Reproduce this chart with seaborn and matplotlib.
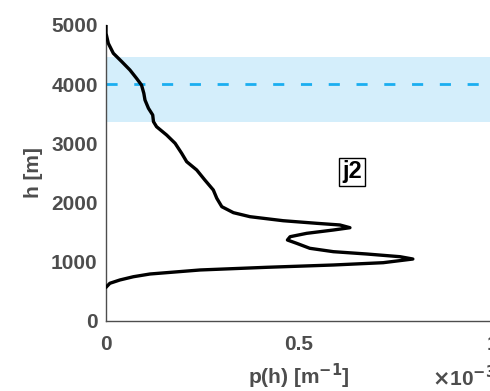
import numpy as np
import pandas as pd
import seaborn as sns
import matplotlib.pyplot as plt

# p(h) values, in units of 1e-3 m^-1, with heights in m
p_e3 = [0.000, 0.000, 0.006, 0.019, 0.041, 0.062, 0.079, 0.092, 0.098, 0.101,
        0.110, 0.121, 0.123, 0.131, 0.157, 0.179, 0.196, 0.209, 0.235, 0.256,
        0.278, 0.287, 0.300, 0.330, 0.373, 0.459, 0.546, 0.606, 0.632, 0.589,
        0.520, 0.477, 0.470, 0.494, 0.528, 0.589, 0.675, 0.762, 0.795, 0.718,
        0.589, 0.416, 0.244, 0.114, 0.071, 0.036, 0.010, 0.000]
h = [5000, 4860, 4690, 4522, 4380, 4240, 4100, 3986, 3846, 3733,
     3593, 3480, 3367, 3282, 3142, 3002, 2833, 2691, 2551, 2382,
     2213, 2073, 1931, 1830, 1762, 1694, 1650, 1622, 1576, 1537,
     1481, 1424, 1368, 1312, 1228, 1171, 1132, 1086, 1047, 985,
     946, 907, 862, 794, 748, 693, 637, 569]

band_lo, band_hi = 3360, 4460
h_ref = 4000
label = "j2"

df = pd.DataFrame({"p": np.array(p_e3) * 1e-3, "h": h})

sns.set_style("white")
plt.rcParams["font.family"] = ["Liberation Sans", "DejaVu Sans"]
plt.rcParams["font.weight"] = "bold"
gray = "#4d4d4d"

fig = plt.figure(figsize=(4.9, 3.91), dpi=100)
ax = fig.add_axes([106 / 490, 1 - 321 / 391, 386 / 490, 296 / 391])

ax.axhspan(band_lo, band_hi, color="#d4eefb", lw=0, zorder=0)
ax.axhline(h_ref, color="#1aaef0", lw=2, ls=(0, (4, 6)), zorder=1)
sns.lineplot(data=df, x="p", y="h", sort=False, color="black", lw=2.4,
             estimator=None, ax=ax, zorder=3)
ax.lines[-1].set_solid_joinstyle("round")

ax.text(0.637e-3, 2517, label, fontsize=17, fontweight="bold", color="black",
        ha="center", va="center",
        bbox=dict(boxstyle="square,pad=0.12", fc="white", ec="black", lw=1))

ax.set_xlim(0, 1e-3)
ax.set_ylim(0, 5000)
ax.set_xticks([0, 0.5e-3, 1e-3])
ax.set_xticklabels(["0", "0.5", "1"])
ax.set_yticks([0, 1000, 2000, 3000, 4000, 5000])
ax.tick_params(direction="in", length=4, width=1, color=gray, labelsize=15,
               labelcolor=gray)
ax.tick_params(axis="x", pad=10)
ax.tick_params(axis="y", pad=6)
for s in ["top", "right"]:
    ax.spines[s].set_visible(False)
for s in ["left", "bottom"]:
    ax.spines[s].set_color(gray)
    ax.spines[s].set_linewidth(1)

ax.set_xlabel("p(h) [m$^{\\mathbf{-1}}$]", fontsize=15, fontweight="bold",
              color=gray, labelpad=6)
ax.set_ylabel("h [m]", fontsize=15, fontweight="bold", color=gray, labelpad=6)
fig.text(432 / 490, 1 - 378 / 391, "$\\times$10$^{\\mathbf{-3}}$", fontsize=15,
         color=gray, va="center", ha="left")

fig.savefig("out.png", dpi=100)
